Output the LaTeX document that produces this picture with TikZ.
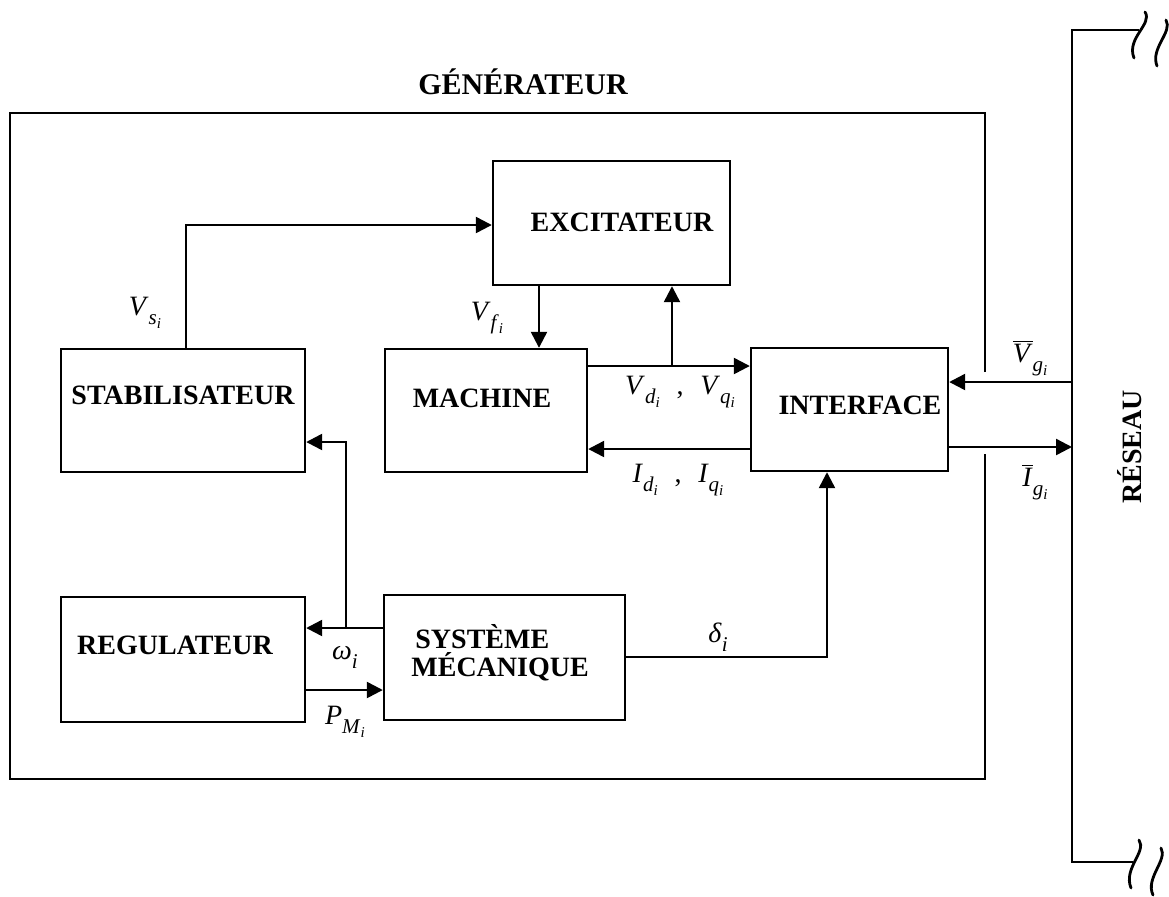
\documentclass[tikz,border=0pt]{standalone}
\usepackage{fontspec}
\setmainfont{Liberation Serif}
\usetikzlibrary{arrows.meta}
\newcommand{\sbl}[3]{\textit{#1}\raisebox{-0.32em}{\fontsize{10.5}{10}\selectfont\textit{#2}\raisebox{-0.22em}{\fontsize{7.5}{7}\selectfont\textit{#3}}}}
\newcommand{\sbo}[2]{\textit{#1}\raisebox{-0.32em}{\fontsize{10.5}{10}\selectfont\textit{#2}}}
\begin{document}
\begin{tikzpicture}[x=0.5pt,y=-0.5pt,
  blk/.style={draw, line width=1.2pt, inner sep=0pt},
  btxt/.style={font=\fontsize{14}{16}\selectfont\bfseries, inner sep=0pt},
  sig/.style={font=\fontsize{14}{16}\selectfont, inner sep=0pt},
  arr/.style={line width=1.2pt, -{Triangle[length=8pt,width=8pt]}},
  squig/.style={line width=1.4pt, line cap=round}]
\useasboundingbox (0,0) rectangle (1169,896);
% outer generator box (right edge interrupted)
\coordinate (g1) at (985,372);
\coordinate (g2) at (985,454);
\draw[line width=0.8pt] (g1) -- (985,113) -- (10,113) -- (10,779) -- (985,779) -- (g2);
\node[btxt, font=\fontsize{15}{17}\selectfont\bfseries] (title) at (523,82) {GÉNÉRATEUR};
% blocks
\node[blk, minimum width=118.5pt, minimum height=62pt] (exc) at (611.5,223) {};
\node[btxt] (exct) at (622,222) {EXCITATEUR};
\node[blk, minimum width=122pt, minimum height=61.5pt] (stab) at (183,410.5) {};
\node[btxt] (stabt) at (183,395) {STABILISATEUR};
\node[blk, minimum width=101pt, minimum height=61.5pt] (mach) at (486,410.5) {};
\node[btxt] (macht) at (482,398) {MACHINE};
\node[blk, minimum width=98.5pt, minimum height=61.5pt] (intf) at (849.5,409.5) {};
\node[btxt] (intft) at (860,405) {INTERFACE};
\node[blk, minimum width=122pt, minimum height=62.5pt] (reg) at (183,659.5) {};
\node[btxt] (regt) at (175,645) {REGULATEUR};
\node[blk, minimum width=120.5pt, minimum height=62.5pt] (sys) at (504.5,657.5) {};
\node[btxt, anchor=west] (syst1) at (415,637) {SYSTÈME};
\node[btxt, anchor=west] (syst2) at (411,667) {MÉCANIQUE};
% reseau
\coordinate (rtop) at (1072,30);
\coordinate (rbot) at (1072,862);
\coordinate (rtopE) at (1139,30);
\coordinate (rbotE) at (1133,862);
\draw[line width=1.4pt] (rtopE) -- (rtop) -- (rbot) -- (rbotE);
\node[btxt, rotate=90] (res) at (1130,447) {RÉSEAU};
\draw[squig] (1145,12) .. controls (1153,24) and (1126,38) .. (1134,58);
\draw[squig] (1166,20) .. controls (1173,32) and (1150,48) .. (1157,66);
\draw[squig] (1139,840) .. controls (1147,852) and (1123,868) .. (1131,888);
\draw[squig] (1161,848) .. controls (1168,860) and (1145,878) .. (1153,895);
% connectors
\draw[arr] (stab.north -| 186,0) |- (exc.west |- 0,225);
\node[sig] (vs) at (145,313) {\sbl{V}{s}{i}};
\draw[arr] (exc.south -| 539,0) -- (mach.north -| 539,0);
\node[sig] (vf) at (487,318) {\sbl{V}{f}{i}};
\draw[arr] (mach.east |- 0,366) -- (intf.west |- 0,366);
\coordinate (br1) at (672,366);
\draw[arr] (br1) -- (exc.south -| br1);
\node[sig] (vdq) at (680,392) {\sbl{V}{d}{i}\hspace{0.6em},\hspace{0.6em}\sbl{V}{q}{i}};
\draw[arr] (intf.west |- 0,449) -- (mach.east |- 0,449);
\node[sig] (idq) at (678,480) {\sbl{I}{d}{i}\hspace{0.6em},\hspace{0.6em}\sbl{I}{q}{i}};
\draw[arr] (rtop |- 0,382) -- (intf.east |- 0,382);
\node[sig] (vg) at (1030,358) {$\overline{\hbox{\textit{V}}}$\raisebox{-0.32em}{\fontsize{10.5}{10}\selectfont\textit{g}\raisebox{-0.22em}{\fontsize{7.5}{7}\selectfont\textit{i}}}};
\draw[arr] (intf.east |- 0,447) -- (rtop |- 0,447);
\node[sig] (ig) at (1035,482) {$\overline{\hbox{\textit{I}}}$\raisebox{-0.32em}{\fontsize{10.5}{10}\selectfont\textit{g}\raisebox{-0.22em}{\fontsize{7.5}{7}\selectfont\textit{i}}}};
\draw[arr] (sys.west |- 0,628) -- (reg.east |- 0,628);
\coordinate (br2) at (346,628);
\draw[arr] (br2) |- (stab.east |- 0,442);
\node[sig] (om) at (345,657) {\sbo{ω}{i}};
\draw[arr] (reg.east |- 0,690) -- (sys.west |- 0,690);
\node[sig] (pm) at (345,722) {\sbl{P}{M}{i}};
\draw[arr] (sys.east |- 0,657) -| (intf.south -| 827,0);
\node[sig] (dl) at (718,637) {\sbo{δ}{i}};
\end{tikzpicture}
\end{document}
